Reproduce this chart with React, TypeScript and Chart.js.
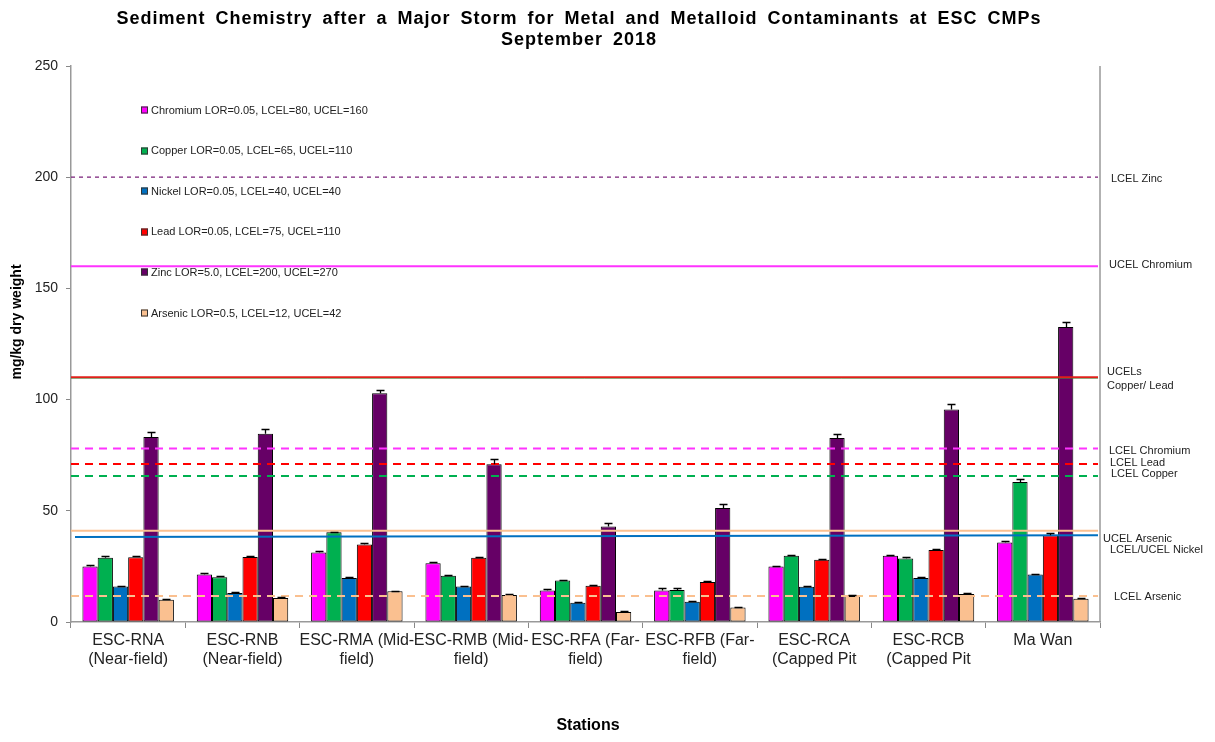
import React, { useEffect, useRef } from "react";
import { Chart, registerables } from "chart.js";

Chart.register(...registerables);

const categories: string[][] = [
  ["ESC-RNA", "(Near-field)"],
  ["ESC-RNB", "(Near-field)"],
  ["ESC-RMA (Mid-", "field)"],
  ["ESC-RMB (Mid-", "field)"],
  ["ESC-RFA (Far-", "field)"],
  ["ESC-RFB (Far-", "field)"],
  ["ESC-RCA", "(Capped Pit"],
  ["ESC-RCB", "(Capped Pit"],
  ["Ma Wan"],
];

const seriesLabels = [
  "Chromium LOR=0.05, LCEL=80, UCEL=160",
  "Copper LOR=0.05, LCEL=65, UCEL=110",
  "Nickel LOR=0.05, LCEL=40, UCEL=40",
  "Lead LOR=0.05, LCEL=75, UCEL=110",
  "Zinc LOR=5.0, LCEL=200, UCEL=270",
  "Arsenic LOR=0.5, LCEL=12, UCEL=42",
];

const chromium = [25.0, 21.4, 31.2, 26.4, 14.2, 14.2, 25.0, 29.8, 35.8];
const copper = [28.9, 20.1, 40.3, 20.8, 18.7, 14.4, 29.8, 28.6, 62.9];
const nickel = [16.0, 13.0, 19.8, 16.0, 8.7, 9.1, 15.9, 19.8, 21.4];
const lead = [29.1, 29.2, 34.8, 28.9, 16.3, 18.0, 28.0, 32.4, 39.0];
const zinc = [83.2, 84.7, 102.8, 70.9, 42.9, 51.3, 82.7, 95.6, 132.6];
const arsenic = [10.0, 10.8, 13.8, 12.1, 4.5, 6.5, 11.7, 12.6, 10.5];

const chromiumErr = [0.8, 0.6, 0.6, 0.5, 0.5, 1.0, 0.4, 0.5, 0.6];
const copperErr = [0.9, 0.6, 0.3, 0.3, 0.4, 1.0, 0.4, 0.6, 1.6];
const nickelErr = [0.4, 0.3, 0.5, 0.4, 0.3, 0.4, 0.3, 0.4, 0.4];
const leadErr = [0.4, 0.4, 0.5, 0.5, 0.4, 0.5, 0.4, 0.4, 1.2];
const zincErr = [2.2, 2.2, 1.6, 2.2, 1.8, 1.8, 1.8, 2.2, 2.2];
const arsenicErr = [0.4, 0.4, 0.3, 0.3, 0.3, 0.3, 0.3, 0.3, 0.3];

// guideline values (start / end of each line)
const guideStart = [200, 160, 109.7, 110, 78, 71, 65.7, 41, 38.2, 11.7];
const guideEnd = [200, 160, 109.7, 110, 78, 71, 65.7, 41, 39.0, 11.7];

const yTicks = [0, 50, 100, 150, 200, 250];

const titleLines = [
  "Sediment Chemistry after a Major Storm for Metal and Metalloid Contaminants at ESC CMPs",
  "September 2018",
];

const guideLabels = [
  "LCEL Zinc",
  "UCEL Chromium",
  "UCELs",
  "Copper/ Lead",
  "LCEL Chromium",
  "LCEL Lead",
  "LCEL Copper",
  "UCEL Arsenic",
  "LCEL/UCEL Nickel",
  "LCEL Arsenic",
];

const FONT = "'Liberation Sans', Arial, Helvetica, sans-serif";

const seriesColors = ["#FF00FF", "#00B050", "#0070C0", "#FF0000", "#660066", "#FAC090"];

const guideStyles = [
  { color: "#7A1F7A", width: 1.2, dash: [4, 4] },
  { color: "#FF33FF", width: 2, dash: [] },
  { color: "#00B050", width: 1, dash: [] },
  { color: "#E0201A", width: 2, dash: [] },
  { color: "#FF33FF", width: 2, dash: [8, 6] },
  { color: "#FF0000", width: 2, dash: [8, 6] },
  { color: "#00B050", width: 2, dash: [8, 6] },
  { color: "#FAC090", width: 2, dash: [] },
  { color: "#0070C0", width: 2, dash: [] },
  { color: "#FAC090", width: 2, dash: [8, 6] },
];

const guideLabelPos = [
  { x: 1111, y: 179 },
  { x: 1109, y: 265 },
  { x: 1107, y: 372 },
  { x: 1107, y: 386 },
  { x: 1109, y: 451 },
  { x: 1110, y: 463 },
  { x: 1111, y: 474 },
  { x: 1103, y: 539 },
  { x: 1110, y: 550 },
  { x: 1114, y: 597 },
];

export default function App() {
  const ref = useRef<HTMLCanvasElement | null>(null);

  useEffect(() => {
    if (!ref.current) return;
    const values = [chromium, copper, nickel, lead, zinc, arsenic];
    const errs = [chromiumErr, copperErr, nickelErr, leadErr, zincErr, arsenicErr];

    const custom = {
      id: "custom",
      afterDatasetsDraw(chart: any) {
        const ctx = chart.ctx;
        const area = chart.chartArea;
        const y = chart.scales.y;
        ctx.save();
        guideStart.forEach((v, i) => {
          const st = guideStyles[i];
          ctx.beginPath();
          ctx.strokeStyle = st.color;
          ctx.lineWidth = st.width;
          ctx.setLineDash(st.dash);
          const x0 = i === 8 ? area.left + 4 : area.left;
          ctx.moveTo(x0, y.getPixelForValue(v));
          ctx.lineTo(area.right - 2, y.getPixelForValue(guideEnd[i]));
          ctx.stroke();
        });
        ctx.setLineDash([]);
        ctx.strokeStyle = "#000";
        ctx.lineWidth = 1.3;
        values.forEach((arr, di) => {
          const meta = chart.getDatasetMeta(di);
          arr.forEach((v, i) => {
            const el = meta.data[i];
            const x = Math.round(el.x) + 0.5;
            const top = y.getPixelForValue(v);
            const eTop = Math.round(y.getPixelForValue(v + errs[di][i])) + 0.5;
            ctx.beginPath();
            ctx.moveTo(x, top);
            ctx.lineTo(x, eTop);
            ctx.moveTo(x - 4, eTop);
            ctx.lineTo(x + 4, eTop);
            ctx.stroke();
          });
        });
        ctx.strokeStyle = "#999";
        ctx.lineWidth = 1.5;
        ctx.beginPath();
        ctx.moveTo(area.right, area.top);
        ctx.lineTo(area.right, area.bottom);
        ctx.stroke();
        ctx.restore();
      },
      afterDraw(chart: any) {
        const ctx = chart.ctx;
        ctx.save();
        ctx.fillStyle = "#000";
        ctx.textAlign = "center";
        ctx.textBaseline = "middle";
        ctx.font = `bold 18px ${FONT}`;
        (ctx as any).letterSpacing = "1px";
        (ctx as any).wordSpacing = "4px";
        ctx.fillText(titleLines[0], 579, 19);
        ctx.fillText(titleLines[1], 579, 40);
        (ctx as any).letterSpacing = "0px";
        (ctx as any).wordSpacing = "0px";
        ctx.font = `bold 16px ${FONT}`;
        ctx.fillText("Stations", 588, 726);
        ctx.save();
        ctx.translate(17, 322);
        ctx.rotate(-Math.PI / 2);
        ctx.font = `bold 14px ${FONT}`;
        ctx.fillText("mg/kg dry weight", 0, 0);
        ctx.restore();
        ctx.textAlign = "left";
        ctx.font = `11px ${FONT}`;
        seriesLabels.forEach((lab, i) => {
          const cy = 110 + i * 40.6;
          ctx.fillStyle = seriesColors[i];
          ctx.fillRect(141, Math.round(cy) - 3.5, 7, 7);
          ctx.strokeStyle = "#333";
          ctx.lineWidth = 1;
          ctx.strokeRect(141.5, Math.round(cy) - 3, 6, 6);
          ctx.fillStyle = "#222";
          ctx.fillText(lab, 151, cy + 0.5);
        });
        ctx.fillStyle = "#222";
        guideLabels.forEach((t, i) => {
          ctx.fillText(t, guideLabelPos[i].x, guideLabelPos[i].y);
        });
        ctx.restore();
      },
    };

    const chart = new Chart(ref.current, {
      type: "bar",
      data: {
        labels: categories,
        datasets: values.map((arr, i) => ({
          label: seriesLabels[i],
          data: arr,
          backgroundColor: seriesColors[i],
          borderColor: "#000",
          borderWidth: 1,
          borderSkipped: false,
          categoryPercentage: 0.8,
          barPercentage: 1.0,
        })),
      },
      options: {
        animation: false,
        responsive: false,
        layout: { padding: { top: 66, right: 115, left: 0, bottom: 0 } },
        plugins: {
          legend: { display: false },
          title: { display: false },
          tooltip: { enabled: false },
        },
        scales: {
          x: {
            type: "category",
            offset: true,
            afterFit: (s: any) => {
              s.height = 120;
            },
            grid: {
              display: true,
              drawOnChartArea: false,
              drawTicks: true,
              tickLength: 6,
              color: "#888",
              offset: true,
            },
            border: { display: true, color: "#999", width: 1.5 },
            ticks: {
              color: "#222",
              font: { size: 16, family: FONT, lineHeight: 1.2 },
              maxRotation: 0,
              autoSkip: false,
              padding: 3,
            },
          },
          y: {
            min: 0,
            max: 250,
            afterFit: (s: any) => {
              s.width = 71;
            },
            afterBuildTicks: (s: any) => {
              s.ticks = yTicks.map((v) => ({ value: v }));
            },
            grid: {
              display: true,
              drawOnChartArea: false,
              drawTicks: true,
              tickLength: 5,
              color: "#888",
            },
            border: { display: true, color: "#999", width: 1.5 },
            ticks: {
              color: "#222",
              font: { size: 14, family: FONT },
              padding: 8,
            },
          },
        },
      },
      plugins: [custom],
    });
    return () => chart.destroy();
  }, []);

  return (
    <div style={{ position: "absolute", left: 0, top: 0, width: 1215, height: 742, background: "#fff" }}>
      <canvas ref={ref} width={1215} height={742} style={{ width: 1215, height: 742 }} />
    </div>
  );
}
